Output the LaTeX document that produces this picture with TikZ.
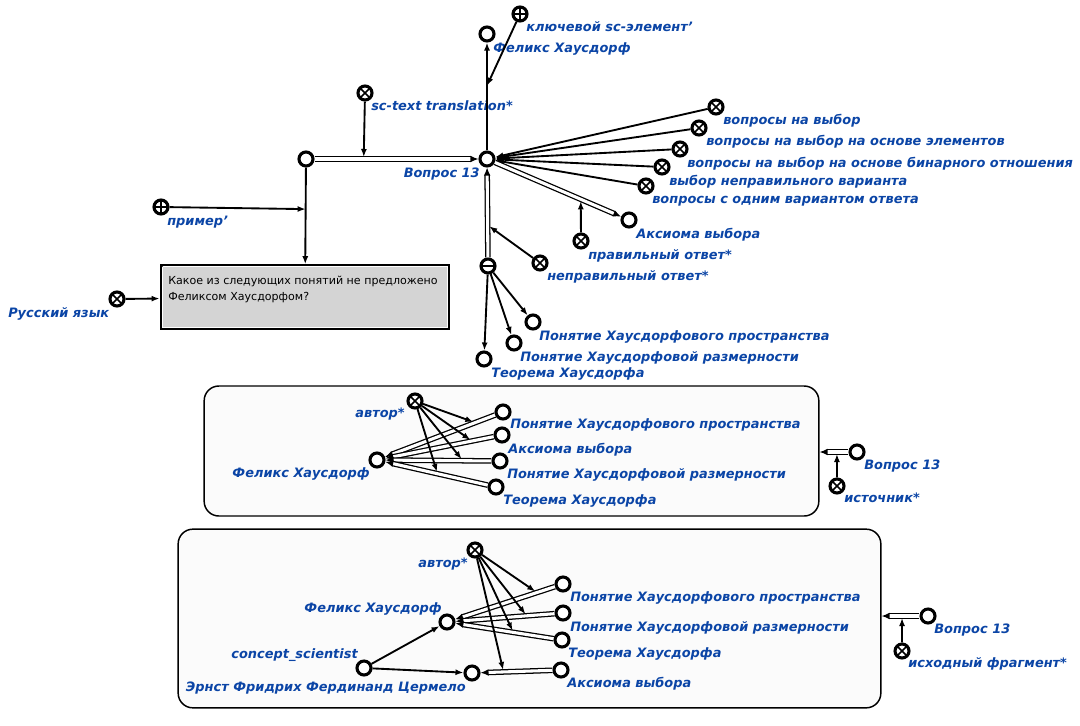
\documentclass[tikz,border=0pt]{standalone}
\usepackage{fontspec}
\setmainfont{DejaVu Sans}
\usetikzlibrary{arrows.meta}
\definecolor{lbl}{HTML}{0B45A6}
\definecolor{qgray}{HTML}{D4D4D4}
\definecolor{ctxfill}{HTML}{FBFBFB}
\begin{document}
\begin{tikzpicture}[x=0.75pt,y=-0.75pt,
 el/.style={circle,draw,line width=2.3pt,fill=white,minimum size=10.5pt,inner sep=0pt},
 rel/.style={el,path picture={\draw[line width=1.2pt] (path picture bounding box.north west)--(path picture bounding box.south east) (path picture bounding box.north east)--(path picture bounding box.south west);}},
 plusn/.style={el,path picture={\draw[line width=1.2pt] (path picture bounding box.north)--(path picture bounding box.south) (path picture bounding box.east)--(path picture bounding box.west);}},
 minusn/.style={el,path picture={\draw[line width=1.6pt] (path picture bounding box.east)--(path picture bounding box.west);}},
 lb/.style={text=lbl,font=\bfseries\itshape\fontsize{9.7}{11}\selectfont,inner sep=0pt,yshift=-1pt},
 lw/.style={lb,anchor=mid west},
 le/.style={lb,anchor=mid east},
 acc/.style={line width=1.4pt,-{Latex[length=6pt,width=4.5pt]}},
 com/.style={line width=0.95pt,double=white,double distance=2.3pt,-{Latex[length=6pt,width=5pt]}},
 qbox/.style={draw,line width=2.2pt,fill=qgray,minimum width=216pt,minimum height=47pt,inner sep=0pt},
 ctx/.style={draw,line width=1.1pt,fill=ctxfill,rounded corners=11pt,inner sep=0pt},
]
\fill[white] (0,0) rectangle (1080,725);
\useasboundingbox (0,0) rectangle (1080,725);

% ---------- top part ----------
\node[el] (fh) at (487,34) {};
\node[lw] (fhL) at (493,48) {Феликс Хаусдорф};
\node[plusn] (key) at (520,14) {};
\node[lw] (keyL) at (526,27) {ключевой sc-элемент\char39};
\node[rel] (sct) at (365,93) {};
\node[lw] (sctL) at (371,106) {sc-text translation*};
\node[el] (lft) at (306,159) {};
\node[el] (q) at (487,159) {};
\node[le] (qL) at (480,173) {Вопрос 13};
\node[plusn] (ex) at (161,207) {};
\node[lw] (exL) at (167,221) {пример\char39};
\node[qbox] (tb) at (305,297) {};
\draw[white,line width=0.8pt] ([shift={(2pt,-2pt)}]tb.north west) rectangle ([shift={(-2pt,2pt)}]tb.south east);
\fill ([shift={(0.5pt,-0.5pt)}]tb.north west) -- ++(3pt,0) -- ++(-3pt,-3pt) -- cycle;
\node[anchor=north west,font=\fontsize{8.3}{11.7}\selectfont,align=left,inner sep=0pt] (tbt) at (168,276) {Какое из следующих понятий не предложено\\Феликсом Хаусдорфом?};
\node[rel] (ru) at (117,299) {};
\node[lw] (ruL) at (8,313) {Русский язык};

\node[rel] (c1) at (716,107) {};
\node[lw] (c1L) at (723,120) {вопросы на выбор};
\node[rel] (c2) at (699,128) {};
\node[lw] (c2L) at (706,141) {вопросы на выбор на основе элементов};
\node[rel] (c3) at (680,149) {};
\node[lw] (c3L) at (687,163) {вопросы на выбор на основе бинарного отношения};
\node[rel] (c4) at (662,167) {};
\node[lw] (c4L) at (669,181) {выбор неправильного варианта};
\node[rel] (c5) at (646,186) {};
\node[lw] (c5L) at (652,199) {вопросы с одним вариантом ответа};
\node[el] (ax) at (629,220) {};
\node[lw] (axL) at (636,234) {Аксиома выбора};
\node[rel] (ra) at (581,241) {};
\node[lw] (raL) at (588,255) {правильный ответ*};
\node[minusn] (tup) at (488,266) {};
\node[rel] (wa) at (540,263) {};
\node[lw] (waL) at (547,276) {неправильный ответ*};
\node[el] (p1) at (533,322) {};
\node[lw] (p1L) at (539,336) {Понятие Хаусдорфового пространства};
\node[el] (p2) at (514,343) {};
\node[lw] (p2L) at (520,357) {Понятие Хаусдорфовой размерности};
\node[el] (p3) at (484,359) {};
\node[lw] (p3L) at (491,373) {Теорема Хаусдорфа};

\draw[acc] (q) -- coordinate[pos=0.6] (m1) (fh);
\draw[acc] (key) -- (m1);
\draw[com] (lft) -- coordinate[pos=0.3] (m2) (q);
\draw[acc,shorten >=1.5pt] (sct) -- (m2);
\draw[acc] (lft) -- coordinate[pos=0.43] (m3) (tb);
\draw[acc] (ex) -- (m3);
\draw[acc] (ru) -- (tb);
\foreach \c in {c1,c2,c3,c4,c5} \draw[acc] (\c) -- (q);
\draw[com] (q) -- coordinate[pos=0.68] (m4) (ax);
\draw[acc,shorten >=1.5pt] (ra) -- (m4);
\draw[com] (tup) -- coordinate[pos=0.36] (m5) (q);
\draw[acc,shorten >=1.5pt] (wa) -- (m5);
\draw[acc] (tup) -- (p1);
\draw[acc] (tup) -- (p2);
\draw[acc] (tup) -- (p3);

% ---------- box 2 ----------
\node[ctx,minimum width=461pt,minimum height=97.5pt] (b2) at (511.5,451) {};
\node[rel] (a2) at (415,401) {};
\node[le] (a2L) at (405,413) {автор*};
\node[el] (f2) at (377,460) {};
\node[le] (f2L) at (370,473) {Феликс Хаусдорф};
\node[el] (d1) at (503,412) {};
\node[lw] (d1L) at (510,424) {Понятие Хаусдорфового пространства};
\node[el] (d2) at (502,435) {};
\node[lw] (d2L) at (508,449) {Аксиома выбора};
\node[el] (d3) at (500,461) {};
\node[lw] (d3L) at (507,474) {Понятие Хаусдорфовой размерности};
\node[el] (d4) at (496,487) {};
\node[lw] (d4L) at (503,500) {Теорема Хаусдорфа};
\draw[com] (d1) -- coordinate[pos=0.18] (n1) (f2);
\draw[com] (d2) -- coordinate[pos=0.2] (n2) (f2);
\draw[com] (d3) -- coordinate[pos=0.27] (n3) (f2);
\draw[com] (d4) -- coordinate[pos=0.49] (n4) (f2);
\foreach \n in {n1,n2,n3,n4} \draw[acc,shorten >=1.5pt] (a2) -- (\n);
\node[el] (q2) at (857,452) {};
\node[lw] (q2L) at (864,465) {Вопрос 13};
\node[rel] (s2) at (837,486) {};
\node[lw] (s2L) at (844,498) {источник*};
\draw[com] (q2) -- coordinate[pos=0.4] (n5) (q2 -| b2.east);
\draw[acc,shorten >=1.5pt] (s2) -- (n5);

% ---------- box 3 ----------
\node[ctx,minimum width=527pt,minimum height=134pt] (b3) at (529.5,618.5) {};
\node[rel] (a3) at (475,550) {};
\node[le] (a3L) at (468,563) {автор*};
\node[el] (f3) at (447,622) {};
\node[le] (f3L) at (442,608) {Феликс Хаусдорф};
\node[el] (cs) at (364,668) {};
\node[le] (csL) at (358,654) {concept\_scientist};
\node[el] (z3) at (472,673) {};
\node[le] (z3L) at (466,687) {Эрнст Фридрих Фердинанд Цермело};
\node[el] (e1) at (563,584) {};
\node[lw] (e1L) at (570,597) {Понятие Хаусдорфового пространства};
\node[el] (e2) at (563,613) {};
\node[lw] (e2L) at (570,627) {Понятие Хаусдорфовой размерности};
\node[el] (e3) at (562,640) {};
\node[lw] (e3L) at (568,653) {Теорема Хаусдорфа};
\node[el] (e4) at (561,670) {};
\node[lw] (e4L) at (567,683) {Аксиома выбора};
\draw[com] (e1) -- coordinate[pos=0.18] (o1) (f3);
\draw[com] (e2) -- coordinate[pos=0.28] (o2) (f3);
\draw[com] (e3) -- coordinate[pos=0.41] (o3) (f3);
\draw[com] (e4) -- coordinate[pos=0.68] (o4) (z3);
\foreach \o in {o1,o2,o3,o4} \draw[acc,shorten >=1.5pt] (a3) -- (\o);
\draw[acc] (cs) -- (f3);
\draw[acc] (cs) -- (z3);
\node[el] (q3) at (928,616) {};
\node[lw] (q3L) at (934,629) {Вопрос 13};
\node[rel] (s3) at (902,651) {};
\node[lw] (s3L) at (908,663) {исходный фрагмент*};
\draw[com] (q3) -- coordinate[pos=0.46] (o5) (q3 -| b3.east);
\draw[acc,shorten >=1.5pt] (s3) -- (o5);
\end{tikzpicture}
\end{document}
